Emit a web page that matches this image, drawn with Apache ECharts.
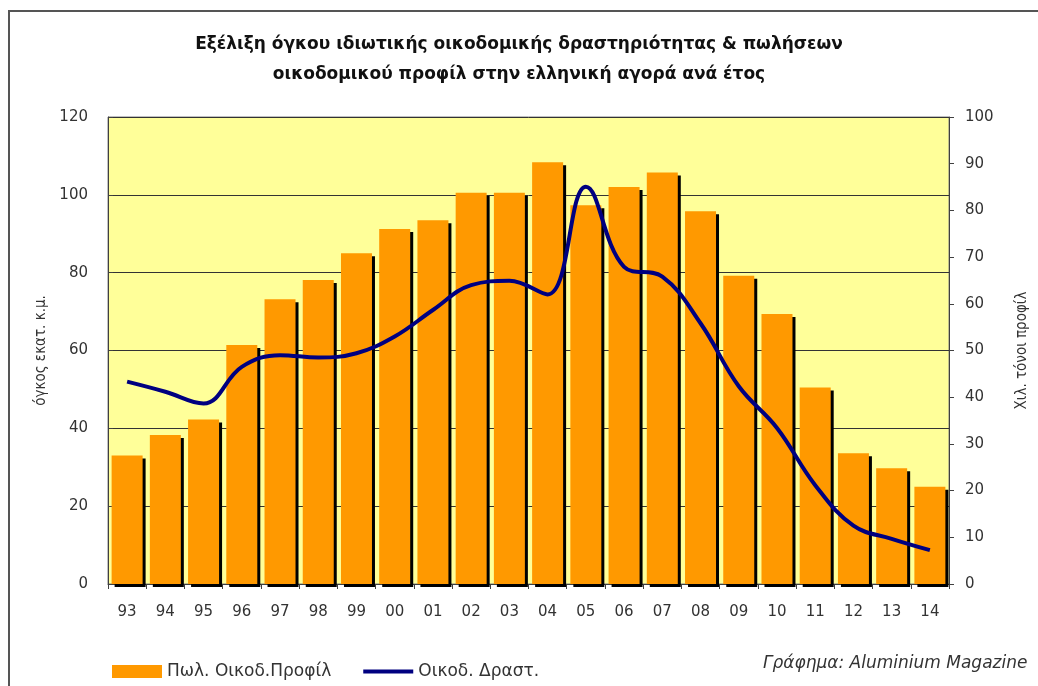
<!DOCTYPE html>
<html>
<head>
<meta charset="utf-8">
<script src="https://cdn.jsdelivr.net/npm/echarts@6/dist/echarts.min.js"></script>
<style>
  html, body { margin: 0; padding: 0; background: #fff; }
  #chart { width: 1038px; height: 686px; }
</style>
</head>
<body>
<div id="chart"></div>
<script>
// έτη (άξονας x)
var years = ['93', '94', '95', '96', '97', '98', '99', '00', '01', '02', '03',
             '04', '05', '06', '07', '08', '09', '10', '11', '12', '13', '14']
// Πωλήσεις οικοδομικού προφίλ, χιλ. τόνοι (δεξιός άξονας)
var profileSales = [27.5, 31.9, 35.2, 51.2, 61, 65.1, 70.8, 76, 77.9, 83.8, 83.8,
                    90.3, 81.1, 85, 88.1, 79.8, 66, 57.8, 42.1, 28, 24.8, 20.8]
// Οικοδομική δραστηριότητα, όγκος εκατ. κ.μ. (αριστερός άξονας)
var buildingVolume = [52, 49.4, 46.4, 55.8, 58.8, 58.2, 59.3, 63.6, 70.4, 76.8, 77.9,
                      74.4, 102.1, 81.5, 79, 67, 50.8, 40.1, 25.4, 15, 11.6, 8.7]

var titleText = 'Εξέλιξη όγκου ιδιωτικής οικοδομικής δραστηριότητας & πωλήσεων\nοικοδομικού προφίλ στην ελληνική αγορά ανά έτος'
var seriesNames = ['Πωλ. Οικοδ.Προφίλ', 'Οικοδ. Δραστ.']
var axisNames = ['όγκος εκατ. κ.μ.', 'Χιλ. τόνοι προφίλ']
var sourceText = 'Γράφημα: Aluminium Magazine'

var labelFont = 'DejaVu Sans'
var narrowFont = 'DejaVu Sans Condensed'

var chart = echarts.init(document.getElementById('chart'), null, { renderer: 'canvas' })

var option = {
    animation: false,
    backgroundColor: '#fff',
    title: {
        text: titleText,
        left: 'center',
        top: 25,
        textStyle: {
            fontFamily: labelFont,
            fontSize: 17,
            fontWeight: 'bold',
            color: '#111',
            lineHeight: 30
        }
    },
    graphic: [{
        // πλαίσιο γύρω από το γράφημα
        type: 'rect',
        shape: { x: 9, y: 11, width: 1040, height: 700 },
        style: { fill: 'none', stroke: '#555', lineWidth: 2 },
        silent: true
    }, {
        type: 'text',
        left: 763,
        top: 655,
        style: {
            text: sourceText,
            font: 'italic 17px ' + labelFont,
            fill: '#333'
        }
    }],
    legend: {
        left: 107,
        top: 658,
        itemWidth: 50,
        itemHeight: 13,
        itemGap: 30,
        textStyle: { fontFamily: labelFont, fontSize: 17, color: '#333' },
        data: [
            { name: seriesNames[0], icon: 'rect' },
            { name: seriesNames[1], itemStyle: { opacity: 0 }, lineStyle: { width: 4, color: '#000080' } }
        ]
    },
    grid: {
        left: 108,
        right: 85,
        top: 117,
        bottom: 102,
        show: true,
        backgroundColor: '#FFFF99',
        borderColor: '#808080',
        borderWidth: 1
    },
    xAxis: {
        type: 'category',
        data: years,
        axisLine: { lineStyle: { color: '#404040', width: 1 } },
        axisTick: { show: true, length: 5, lineStyle: { color: '#404040' } },
        axisLabel: { fontFamily: labelFont, fontSize: 15, color: '#333', margin: 21 }
    },
    yAxis: [{
        type: 'value',
        min: 0,
        max: 120,
        interval: 20,
        name: axisNames[0],
        nameLocation: 'middle',
        nameRotate: 90,
        nameGap: 58,
        nameTextStyle: { fontFamily: narrowFont, fontSize: 15, color: '#333' },
        axisLine: { show: true, lineStyle: { color: '#404040' } },
        axisTick: { show: true, inside: true, length: 5, lineStyle: { color: '#404040' } },
        axisLabel: { fontFamily: labelFont, fontSize: 15, color: '#333', margin: 20 },
        splitLine: { show: true, lineStyle: { color: '#333', width: 1 } }
    }, {
        type: 'value',
        min: 0,
        max: 100,
        interval: 10,
        position: 'right',
        name: axisNames[1],
        nameLocation: 'middle',
        nameRotate: 90,
        nameGap: 66,
        nameTextStyle: { fontFamily: narrowFont, fontSize: 15, color: '#333' },
        axisLine: { show: true, lineStyle: { color: '#404040' } },
        axisTick: { show: true, length: 5, lineStyle: { color: '#404040' } },
        axisLabel: { fontFamily: labelFont, fontSize: 15, color: '#333', margin: 16 },
        splitLine: { show: false }
    }],
    series: [{
        name: seriesNames[0],
        type: 'bar',
        yAxisIndex: 1,
        data: profileSales,
        barWidth: 31,
        itemStyle: {
            color: '#FF9900',
            shadowColor: '#000',
            shadowBlur: 0,
            shadowOffsetX: 3,
            shadowOffsetY: 3
        }
    }, {
        name: seriesNames[1],
        type: 'line',
        yAxisIndex: 0,
        data: buildingVolume,
        smooth: 0.4,
        symbol: 'none',
        lineStyle: { color: '#000080', width: 4 },
        itemStyle: { color: '#000080' }
    }]
}

chart.setOption(option)
</script>
</body>
</html>
